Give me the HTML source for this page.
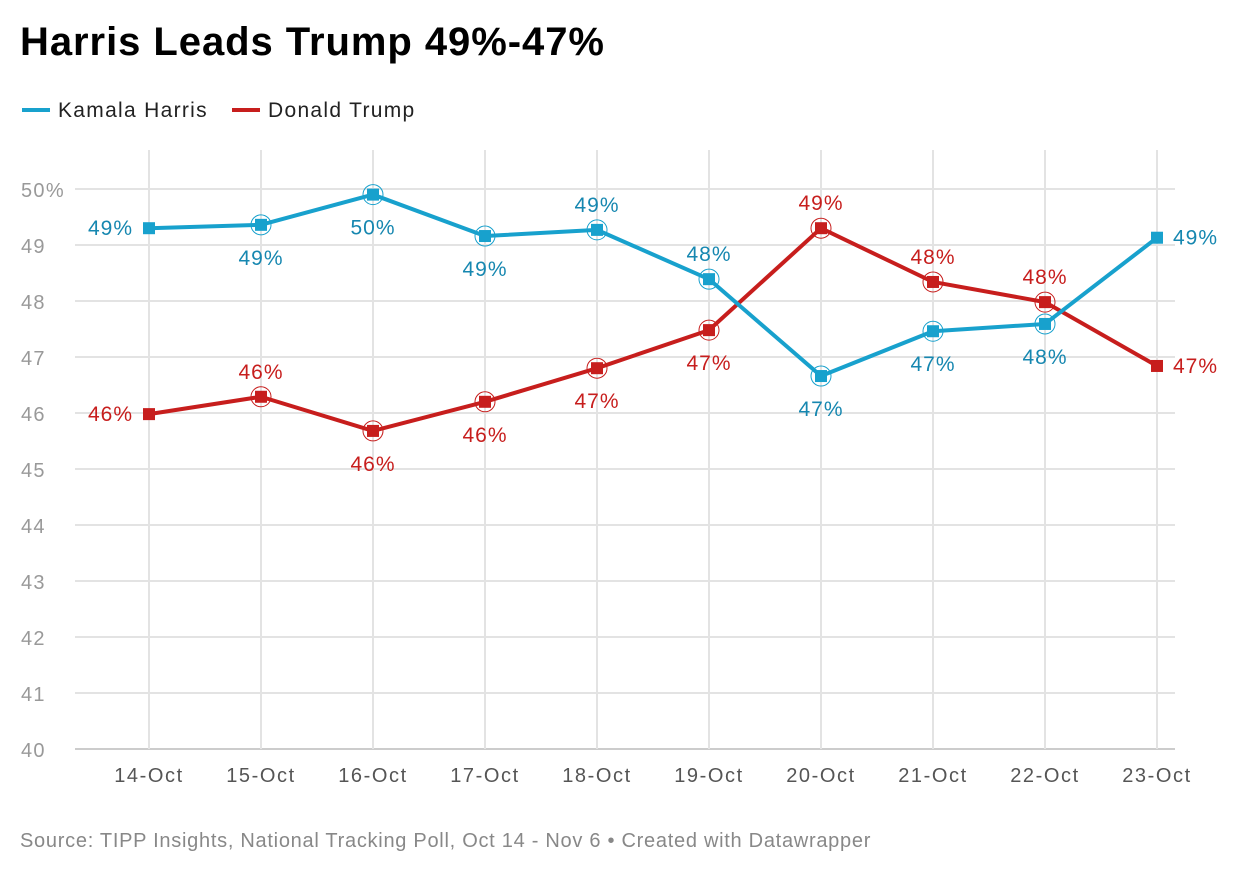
<!DOCTYPE html>
<html><head><meta charset="utf-8"><style>
body{margin:0;background:#fff;font-family:"Liberation Sans",sans-serif;}
#wrap{position:relative;width:1240px;height:876px;}
h1{position:absolute;left:20px;top:20px;margin:0;font-size:40px;font-weight:bold;color:#000;letter-spacing:0.95px}
.src{position:absolute;left:20px;top:830px;font-size:20px;color:#888;letter-spacing:0.72px}
</style></head><body>
<div id="wrap">
<h1>Harris Leads Trump 49%-47%</h1>
<svg id="chart" width="1240" height="876" style="position:absolute;left:0;top:0"></svg>
<div class="src">Source: TIPP Insights, National Tracking Poll, Oct 14 - Nov 6 • Created with Datawrapper</div>
</div>
<script>
const categories=["14-Oct","15-Oct","16-Oct","17-Oct","18-Oct","19-Oct","20-Oct","21-Oct","22-Oct","23-Oct"];
const harris=[49.3,49.36,49.9,49.16,49.27,48.39,46.66,47.46,47.59,49.13];
const trump=[45.98,46.29,45.68,46.2,46.8,47.48,49.3,48.34,47.98,46.84];
const harrisLabels=["49%","49%","50%","49%","49%","48%","47%","47%","48%","49%"];
const trumpLabels=["46%","46%","46%","46%","47%","47%","49%","48%","48%","47%"];
const harrisPos=["left","below","below","below","above","above","below","below","below","right"];
const trumpPos=["left","above","below","below","below","below","above","above","above","right"];
const yTicks=[40,41,42,43,44,45,46,47,48,49,50];

const NS="http://www.w3.org/2000/svg";
const svg=document.getElementById('chart');
const x=i=>149+i*112;
const y=v=>749-(v-40)*56;
function el(t,a,p){const e=document.createElementNS(NS,t);for(const k in a)e.setAttribute(k,a[k]);(p||svg).appendChild(e);return e;}

const lg=el('g',{});


[["Kamala Harris","#18a1cd",22],["Donald Trump","#c71e1d",232]].forEach(([n,c,lx])=>{
  const g=el('g',{},lg);
  
  
  el('line',{x1:lx,x2:lx+28,y1:110,y2:110,stroke:c,'stroke-width':4},g);
  const t=el('text',{x:lx+36,y:117,'font-size':21,fill:'#222','letter-spacing':1.3},g);t.textContent=n;
});

yTicks.forEach(v=>{
  const l=el('line',{x1:75,x2:1175,y1:y(v),y2:y(v),stroke:v===40?'#ccc':'#e3e3e3','stroke-width':2});
  
  
  const t=el('text',{x:21,y:y(v)+8,'font-size':20,fill:'#999','letter-spacing':1.3});
  t.textContent=v===50?'50%':v;
  
  
});
categories.forEach((c,i)=>{
  const l=el('line',{x1:x(i),x2:x(i),y1:150,y2:749,stroke:'#e3e3e3','stroke-width':2});
  
  
  const t=el('text',{x:x(i),y:782,'font-size':20,fill:'#555','text-anchor':'middle','letter-spacing':1.6});
  t.textContent=c;
  
  
});

function series(vals,labels,pos,color,textColor,name){
  const g=el('g',{});
  
  
  el('polyline',{points:vals.map((v,i)=>x(i)+','+y(v)).join(' '),fill:'none',stroke:color,'stroke-width':4,'stroke-linejoin':'round'},g);
  vals.forEach((v,i)=>{
    if(i>0&&i<vals.length-1){
      const c=el('circle',{cx:x(i),cy:y(v),r:10,fill:'none',stroke:color,'stroke-width':1},g);
      
      
    }
    const r=el('rect',{x:x(i)-6,y:y(v)-6,width:12,height:12,fill:color},g);
    
    
    let tx=x(i),ty=y(v),anchor='middle';
    if(pos[i]==='left'){tx=x(i)-16;ty=y(v)+7;anchor='end';}
    else if(pos[i]==='right'){tx=x(i)+16;ty=y(v)+7;anchor='start';}
    else if(pos[i]==='above'){ty=y(v)-18;}
    else {ty=y(v)+40;}
    const t=el('text',{x:tx,y:ty,'font-size':21,fill:textColor,'text-anchor':anchor,'letter-spacing':1},g);
    t.textContent=labels[i];
    
    
  });
}
series(trump,trumpLabels,trumpPos,'#c71e1d','#c71e1d','trump');
series(harris,harrisLabels,harrisPos,'#18a1cd','#1687b0','harris');
</script>
</body></html>
